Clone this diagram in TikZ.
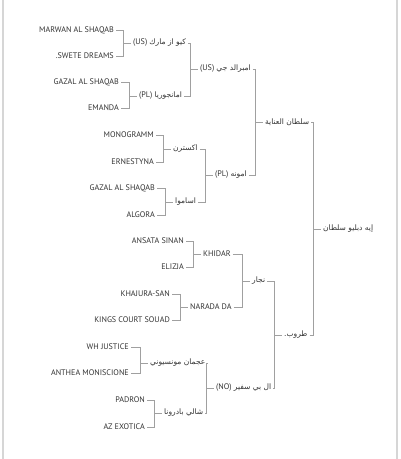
\documentclass[tikz,border=0pt]{standalone}
\usepackage{fontspec}
\setmainfont{PT Sans}
\newfontfamily\arabicfont[Script=Arabic,Scale=0.93]{DejaVu Sans}
\TeXXeTstate=1
\newcommand{\artext}[1]{{\arabicfont\beginR#1\endR}}
\definecolor{txtc}{HTML}{333333}
\definecolor{linec}{HTML}{A0A0A0}
\definecolor{borderc}{HTML}{D6D6D6}
\begin{document}
\begin{tikzpicture}[x=1pt,y=-1pt,
  lbl/.style={inner sep=2pt, font=\fontsize{8.1}{9}\selectfont, text=txtc},
  leaf/.style={lbl, anchor=east},
  par/.style={lbl, anchor=west},
  conn/.style={draw=linec, line width=0.8pt}]
\useasboundingbox (0,0) rectangle (400,459);
\fill[white] (0,0) rectangle (400,459);
\draw[borderc, line width=1.2pt] (3,0) -- (3,459);
\draw[borderc, line width=1.2pt] (397,0) -- (397,459);

% leaves
\node[leaf] (l1) at (116,30) {MARWAN AL SHAQAB};
\node[leaf] (l2) at (116,56) {.SWETE DREAMS};
\node[leaf] (l3) at (121,82) {GAZAL AL SHAQAB};
\node[leaf] (l4) at (121,108) {EMANDA};
\node[leaf] (l5) at (156,135) {MONOGRAMM};
\node[leaf] (l6) at (156,162) {ERNESTYNA};
\node[leaf] (l7) at (157,188) {GAZAL AL SHAQAB};
\node[leaf] (l8) at (157,215) {ALGORA};
\node[leaf] (l9) at (186,241) {ANSATA SINAN};
\node[leaf] (l10) at (186,267) {ELIZJA};
\node[leaf] (l11) at (172,294) {KHAJURA-SAN};
\node[leaf] (l12) at (172,320) {KINGS COURT SOUAD};
\node[leaf] (l13) at (131,347) {WH JUSTICE};
\node[leaf] (l14) at (131,373) {ANTHEA MONISCIONE};
\node[leaf] (l15) at (147,400) {PADRON};
\node[leaf] (l16) at (147,427) {AZ EXOTICA};

% generation 3
\node[par] (a) at (131,43) {(US) \artext{كيو از مارك}};
\node[par] (b) at (137,96) {(PL) \artext{امانجوريا}};
\node[par] (c) at (171,149) {\artext{اكسترن}};
\node[par] (d) at (173,202) {\artext{اساموا}};
\node[par] (e) at (201,254) {KHIDAR};
\node[par] (f) at (188,307) {NARADA DA};
\node[par] (g) at (148,363) {\artext{عجمان مونسيوني}};
\node[par] (h) at (162,413) {\artext{شالي بادرونا}};

% generation 2
\node[par] (i) at (198,69) {(US) \artext{امبرالد جي}};
\node[par] (j) at (213,175) {(PL) \artext{امونه}};
\node[par] (k) at (250,281) {\artext{نجار}};
\node[par] (m) at (214,388) {(NO) \artext{ال بي سفير}};

% generation 1
\node[par] (n) at (263,122) {\artext{سلطان العناية}};
\node[par] (o) at (282,335) {\artext{طروب.}};

% root
\node[par] (r) at (321,229) {\artext{إيه دبليو سلطان}};

% connectors
\foreach \ch/\pa in {l1/a,l2/a,l3/b,l4/b,l5/c,l6/c,l7/d,l8/d,l9/e,l10/e,l11/f,l12/f,l13/g,l14/g,l15/h,l16/h,
  a/i,b/i,c/j,d/j,e/k,f/k,g/m,h/m,i/n,j/n,k/o,m/o,n/r,o/r}
  \draw[conn] (\ch.east) -| ([xshift=-8pt]\pa.west) -- (\pa.west);
\end{tikzpicture}
\end{document}
